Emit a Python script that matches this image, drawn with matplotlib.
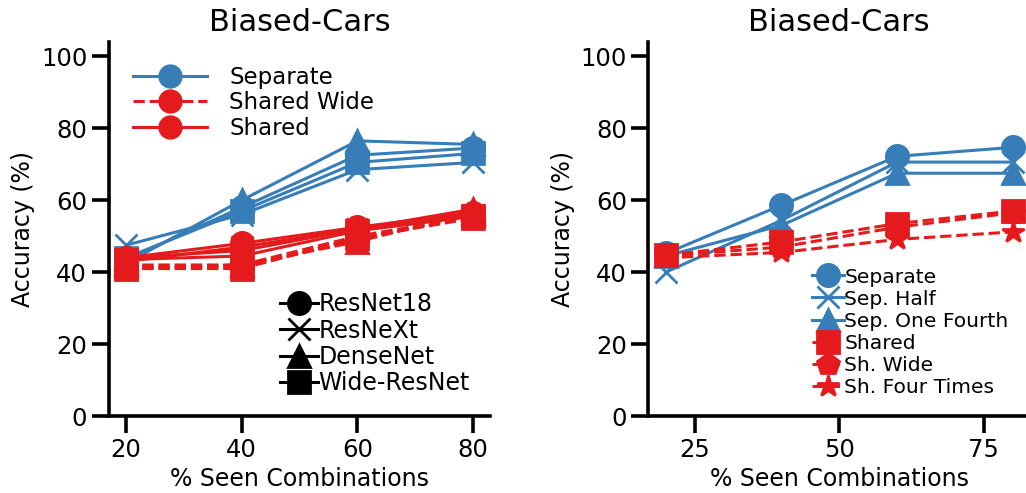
import matplotlib
matplotlib.use('Agg')
import matplotlib.pyplot as plt
from matplotlib.lines import Line2D

blue = '#377eb8'
red = '#e41a1c'

seen = [20, 40, 60, 80]

# left panel: four backbones, separate vs shared vs shared wide
model_names = ['ResNet18', 'ResNeXt', 'DenseNet', 'Wide-ResNet']
model_markers = ['o', 'x', '^', 's']

sep_resnet18 = [43.5, 58, 72.5, 74.5]
sep_resnext = [47.5, 56, 68.5, 70.5]
sep_densenet = [42.5, 60, 76.5, 75.5]
sep_wideresnet = [44, 57, 70.5, 73]

wide_resnet18 = [41.5, 41.5, 49, 56]
wide_resnext = [41, 42, 50, 55.5]
wide_densenet = [42, 42, 48.5, 56.5]
wide_wideresnet = [41, 41, 49.5, 55]

sh_resnet18 = [44, 48, 52.5, 56.5]
sh_resnext = [43, 47, 52, 56]
sh_densenet = [44, 46, 52, 57.5]
sh_wideresnet = [43.5, 44.5, 51.5, 55.5]

# right panel: separate vs shared at different widths
sep_full = [45.2, 58.6, 72.2, 74.7]
sep_half = [40, 54.4, 70.6, 70.6]
sep_fourth = [44.5, 53, 67.5, 67.5]
shared = [44.7, 48.4, 53.5, 57]
sh_wide = [44.5, 47, 52.5, 56.5]
sh_four = [44, 45.5, 49.1, 51.2]
right_labels = ['Separate', 'Sep. Half', 'Sep. One Fourth',
                'Shared', 'Sh. Wide', 'Sh. Four Times']

plt.rcParams['font.family'] = 'DejaVu Sans'
plt.rcParams['axes.linewidth'] = 2.6
plt.rcParams['xtick.major.width'] = 2.6
plt.rcParams['ytick.major.width'] = 2.6
plt.rcParams['xtick.major.size'] = 12
plt.rcParams['ytick.major.size'] = 12
plt.rcParams['xtick.labelsize'] = 17.5
plt.rcParams['ytick.labelsize'] = 17.5

fig = plt.figure(figsize=(10.26, 4.93), dpi=100)
ax1 = fig.add_axes([0.106, 0.156, 0.372, 0.759])
ax2 = fig.add_axes([0.632, 0.156, 0.372, 0.759])

lw = 2.2
ms = 16

sep_rows = [sep_resnet18, sep_resnext, sep_densenet, sep_wideresnet]
wide_rows = [wide_resnet18, wide_resnext, wide_densenet, wide_wideresnet]
sh_rows = [sh_resnet18, sh_resnext, sh_densenet, sh_wideresnet]

for vals, m in zip(sep_rows, model_markers):
    ax1.plot(seen, vals, color=blue, lw=lw, marker=m, ms=ms, mew=2)
for vals, m in zip(wide_rows, model_markers):
    ax1.plot(seen, vals, color=red, lw=lw, ls='--', marker=m, ms=ms, mew=2)
for vals, m in zip(sh_rows, model_markers):
    ax1.plot(seen, vals, color=red, lw=lw, marker=m, ms=ms, mew=2)

kind_handles = [
    Line2D([], [], color=blue, lw=lw, marker='o', ms=16.5),
    Line2D([], [], color=red, lw=lw, ls='--', marker='o', ms=16.5),
    Line2D([], [], color=red, lw=lw, marker='o', ms=16.5),
]
leg1 = ax1.legend(kind_handles, ['Separate', 'Shared Wide', 'Shared'],
                  loc='upper left', bbox_to_anchor=(0.04, 0.96), frameon=False,
                  fontsize=16.5, handlelength=3.2, handletextpad=1.0,
                  labelspacing=0.1, borderaxespad=0)
ax1.add_artist(leg1)

model_handles = [Line2D([], [], color='black', lw=lw, marker=m, ms=16, mew=2)
                 for m in model_markers]
ax1.legend(model_handles, model_names, loc='lower right',
           bbox_to_anchor=(0.97, 0.03), frameon=False, fontsize=17,
           handlelength=1.6, handletextpad=0.0, labelspacing=0.1,
           borderaxespad=0)

right_rows = [sep_full, sep_half, sep_fourth, shared, sh_wide, sh_four]
right_markers = ['o', 'x', '^', 's', 'p', '*']
right_colors = [blue, blue, blue, red, red, red]
right_styles = ['-', '-', '-', '--', '--', '--']
for vals, m, c, s, lab in zip(right_rows, right_markers, right_colors,
                              right_styles, right_labels):
    ax2.plot(seen, vals, color=c, lw=lw, ls=s, marker=m, ms=ms, mew=2,
             label=lab)
ax2.legend(loc='lower right', bbox_to_anchor=(0.965, 0.03), frameon=False,
           fontsize=14.6, handlelength=1.6, handletextpad=0.0,
           labelspacing=0.15, borderaxespad=0)

for ax in (ax1, ax2):
    ax.set_ylim(0, 104)
    ax.set_yticks([0, 20, 40, 60, 80, 100])
    ax.set_xlim(17, 83)
    ax.spines['top'].set_visible(False)
    ax.spines['right'].set_visible(False)
    ax.set_title('Biased-Cars', fontsize=22, pad=8)
    ax.set_xlabel('% Seen Combinations', fontsize=17)
    ax.set_ylabel('Accuracy (%)', fontsize=17)

ax1.set_xticks([20, 40, 60, 80])
ax2.set_xticks([25, 50, 75])

fig.savefig('out.png', dpi=100)
